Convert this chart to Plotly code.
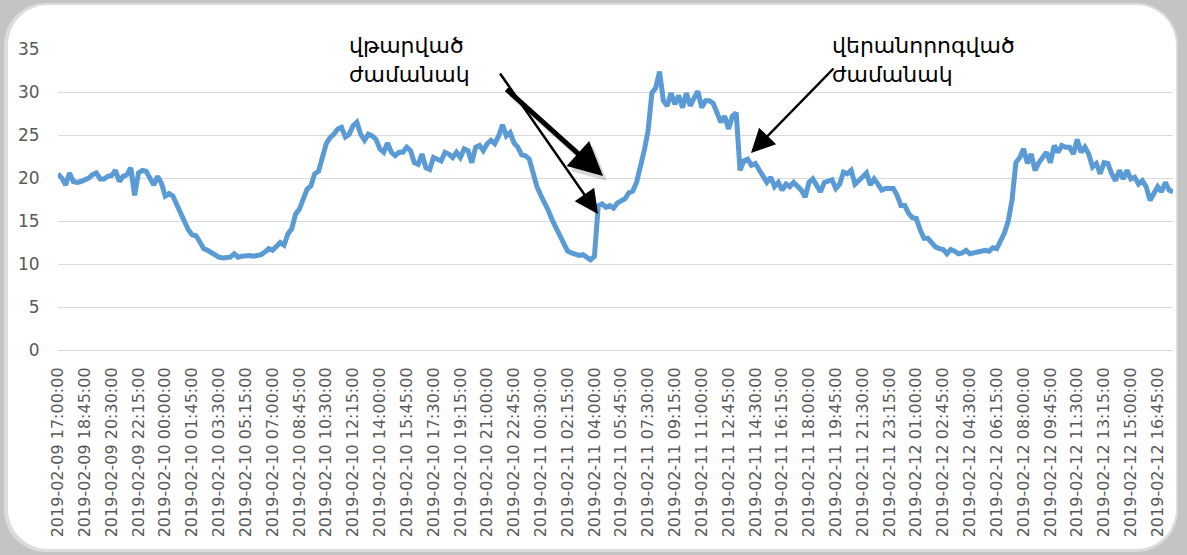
import plotly.graph_objects as go
import pandas as pd

# ---------------- data ----------------
start_time = "2019-02-09 17:00:00"
step = "15min"
label_every = 7

temperature = [
    20.5, 20.0, 19.2, 20.6, 19.6, 19.5, 19.6, 19.8, 20.0, 20.4,
    20.6, 19.9, 19.9, 20.2, 20.3, 20.9, 19.6, 20.2, 20.4, 21.2,
    18.0, 20.6, 20.9, 20.8, 20.0, 19.2, 20.2, 19.4, 17.9, 18.2,
    17.9, 16.9, 15.9, 14.9, 14.0, 13.4, 13.3, 12.6, 11.8, 11.6,
    11.3, 11.1, 10.8, 10.7, 10.8, 10.8, 11.2, 10.8, 10.9, 11.0,
    11.0, 10.9, 11.0, 11.1, 11.4, 11.8, 11.6, 12.0, 12.5, 12.2,
    13.5, 14.1, 15.8, 16.4, 17.4, 18.7, 19.1, 20.5, 20.8, 22.2,
    24.0, 24.7, 25.1, 25.7, 25.9, 24.8, 25.1, 26.1, 26.5, 25.1,
    24.4, 25.1, 24.9, 24.5, 23.4, 23.0, 24.1, 23.0, 22.6, 23.0,
    23.0, 23.6, 23.2, 21.8, 21.6, 22.8, 21.2, 21.0, 22.4, 22.2,
    22.0, 23.0, 22.8, 22.4, 23.0, 22.4, 23.4, 23.2, 21.8, 23.6,
    23.8, 23.2, 24.0, 24.4, 24.0, 24.9, 26.2, 24.9, 25.3, 24.1,
    23.6, 22.7, 22.6, 22.2, 20.3, 19.0, 18.0, 17.2, 16.2, 15.1,
    14.2, 13.2, 12.2, 11.5, 11.3, 11.1, 11.0, 11.1, 10.8, 10.5,
    10.9, 16.8, 17.0, 16.6, 16.8, 16.5, 17.1, 17.4, 17.6, 18.3,
    18.5, 19.5, 21.3, 23.2, 25.5, 29.9, 30.5, 32.4, 29.0, 28.4,
    29.9, 28.6, 29.6, 28.2, 29.9, 28.4, 29.3, 30.1, 28.2, 29.0,
    29.0, 28.7, 27.6, 26.5, 27.2, 25.7, 27.2, 27.6, 20.9, 22.0,
    22.2, 21.5, 21.7, 20.9, 20.3, 19.5, 20.1, 19.0, 19.5, 18.6,
    19.3, 19.0, 19.5, 19.0, 18.6, 17.8, 19.5, 19.9, 19.0, 18.4,
    19.5, 19.7, 19.8, 18.8, 19.3, 20.7, 20.5, 20.9, 19.3, 19.7,
    20.1, 20.6, 19.2, 19.9, 19.3, 18.6, 18.8, 18.8, 18.8, 18.0,
    16.8, 16.8, 15.9, 15.4, 15.3, 14.0, 13.0, 13.0, 12.4, 12.0,
    11.8, 11.7, 11.2, 11.7, 11.5, 11.2, 11.3, 11.6, 11.2, 11.3,
    11.3, 11.5, 11.6, 11.5, 11.9, 11.8, 12.8, 13.6, 15.0, 17.5,
    21.8, 22.4, 23.4, 21.7, 22.8, 20.9, 21.8, 22.4, 23.0, 21.8,
    23.8, 23.0, 23.8, 23.6, 23.6, 22.8, 24.5, 23.0, 23.6, 22.8,
    21.3, 21.7, 20.5, 21.8, 21.7, 20.5, 19.7, 20.9, 19.9, 20.9,
    19.9, 20.1, 19.3, 19.7, 19.0, 17.4, 18.2, 19.0, 18.4, 19.5,
    18.6, 18.4,
]

y_ticks = [0, 5, 10, 15, 20, 25, 30, 35]

note_damaged = "վթարված<br>ժամանակ"
note_restored = "վերանորոգված<br>ժամանակ"

times = pd.date_range(start_time, periods=len(temperature), freq=step)
categories = list(times.strftime("%Y-%m-%d %H:%M:%S"))
tick_labels = categories[::label_every]

# ---------------- layout geometry (pixels) ----------------
W, H = 1187, 555
L, R, T, B = 58, 1173, 49, 350


def pxx(x):
    return (x - L) / (R - L)


def pxy(y):
    return (B - y) / (B - T)


def rounded_rect(x0, y0, x1, y1, r):
    k = 0.5523 * r
    pts = []
    pts.append(f"M{pxx(x0 + r)},{pxy(y0)}")
    pts.append(f"L{pxx(x1 - r)},{pxy(y0)}")
    pts.append(f"C{pxx(x1 - r + k)},{pxy(y0)} {pxx(x1)},{pxy(y0 + r - k)} {pxx(x1)},{pxy(y0 + r)}")
    pts.append(f"L{pxx(x1)},{pxy(y1 - r)}")
    pts.append(f"C{pxx(x1)},{pxy(y1 - r + k)} {pxx(x1 - r + k)},{pxy(y1)} {pxx(x1 - r)},{pxy(y1)}")
    pts.append(f"L{pxx(x0 + r)},{pxy(y1)}")
    pts.append(f"C{pxx(x0 + r - k)},{pxy(y1)} {pxx(x0)},{pxy(y1 - r + k)} {pxx(x0)},{pxy(y1 - r)}")
    pts.append(f"L{pxx(x0)},{pxy(y0 + r)}")
    pts.append(f"C{pxx(x0)},{pxy(y0 + r - k)} {pxx(x0 + r - k)},{pxy(y0)} {pxx(x0 + r)},{pxy(y0)}")
    pts.append("Z")
    return " ".join(pts)


fig = go.Figure()
fig.add_trace(go.Scatter(
    x=categories, y=temperature, mode="lines",
    line=dict(color="#5B9BD5", width=5),
    hoverinfo="x+y",
))

label_font = dict(family="DejaVu Sans", size=16, color="#595959")
ylabel_font = dict(family="DejaVu Sans", size=17, color="#595959")

fig.update_layout(
    width=W, height=H,
    margin=dict(l=L, r=W - R, t=T, b=H - B, autoexpand=False),
    paper_bgcolor="#c4c4c4",
    plot_bgcolor="white",
    showlegend=False,
    xaxis=dict(
        type="category",
        categoryorder="array", categoryarray=categories,
        range=[0, len(categories) - 1],
        tickmode="array", tickvals=tick_labels, ticktext=tick_labels,
        tickangle=-90, tickfont=label_font,
        showgrid=False, zeroline=False, showline=False,
        ticks="outside", ticklen=10, tickcolor="rgba(0,0,0,0)",
        automargin=False,
    ),
    yaxis=dict(
        range=[0, 35.02], tickmode="array", tickvals=y_ticks,
        tickfont=ylabel_font,
        showgrid=True, gridcolor="#d9d9d9", gridwidth=1,
        zeroline=True, zerolinecolor="#d9d9d9", zerolinewidth=1,
        showline=False,
        ticks="outside", ticklen=14, tickcolor="rgba(0,0,0,0)",
        automargin=False,
    ),
    shapes=[
        dict(
            type="path", xref="paper", yref="paper", layer="below",
            path=rounded_rect(4, 3, 1178, 552, 42),
            fillcolor="#dcdcdc", line=dict(width=0),
        ),
        dict(
            type="path", xref="paper", yref="paper", layer="below",
            path=rounded_rect(8, 5, 1176, 549, 40),
            fillcolor="white", line=dict(width=0),
        ),
    ],
)

# text notes
fig.add_annotation(
    xref="paper", yref="paper", x=pxx(347), y=pxy(60),
    xanchor="left", yanchor="middle", align="left",
    text=note_damaged, showarrow=False,
    font=dict(family="DejaVu Sans", size=22, color="black"),
)
fig.add_annotation(
    xref="paper", yref="paper", x=pxx(830), y=pxy(60),
    xanchor="left", yanchor="middle", align="left",
    text=note_restored, showarrow=False,
    font=dict(family="DejaVu Sans", size=22, color="black"),
)

# arrows (tip position in paper coords, tail offset in pixels)
arrows = [
    # (tip_x, tip_y, tail_x, tail_y, width, size, color)
    (607, 181, 509, 93, 5, 1.35, "rgba(0,0,0,0.15)"),   # soft shadow
    (603, 176, 505, 88, 5, 1.35, "black"),
    (598, 214, 499, 72, 2.5, 1.9, "black"),
    (751, 153, 835, 67, 2.5, 1.9, "black"),
]
for tx, ty, sx, sy, w, s, c in arrows:
    fig.add_annotation(
        xref="paper", yref="paper", x=pxx(tx), y=pxy(ty),
        ax=sx - tx, ay=sy - ty, axref="pixel", ayref="pixel",
        text="", showarrow=True, arrowhead=2, arrowsize=s,
        arrowwidth=w, arrowcolor=c, standoff=0, startstandoff=0,
    )

fig.write_html(
    "out.html",
    config={"displayModeBar": False},
    post_script="document.body.style.margin='0';document.body.style.overflow='hidden';",
)
